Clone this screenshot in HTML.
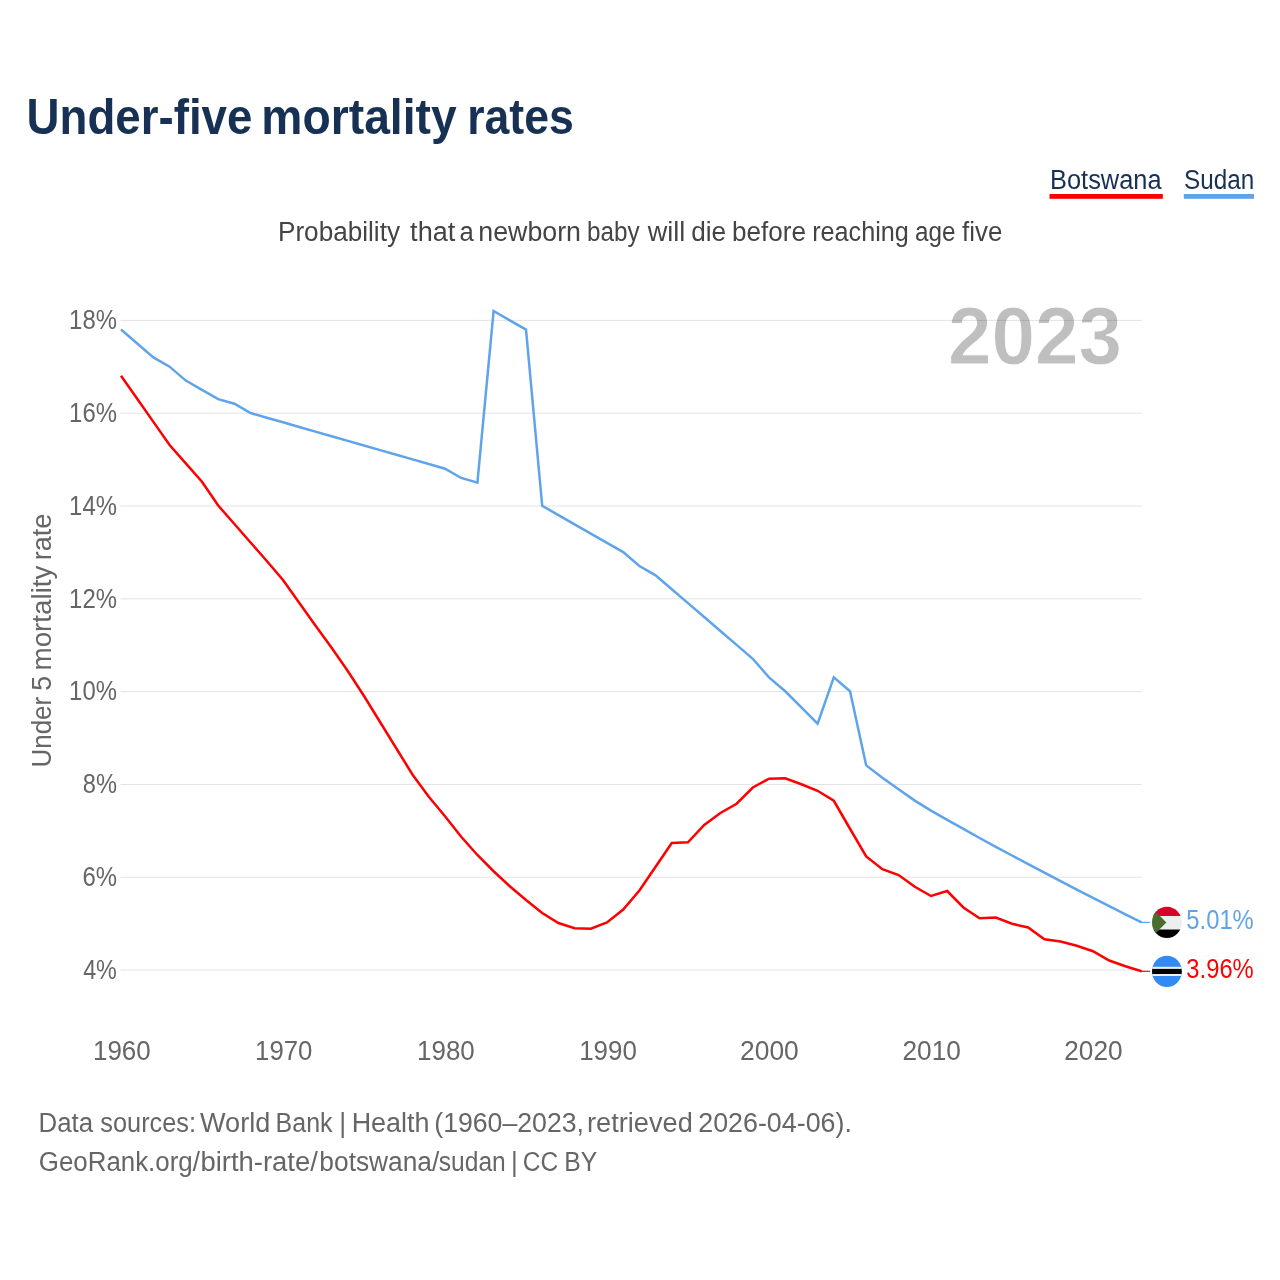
<!DOCTYPE html>
<html><head><meta charset="utf-8"><title>Under-five mortality rates</title>
<style>
html,body{margin:0;padding:0;background:#fff;}
body{width:1280px;height:1280px;overflow:hidden;font-family:"Liberation Sans",sans-serif;}
svg{display:block;will-change:transform;}
text{font-family:"Liberation Sans",sans-serif;}
</style></head><body>
<svg width="1280" height="1280" viewBox="0 0 1280 1280">
<rect width="1280" height="1280" fill="#fff"/>
<!-- legend underlines -->
<rect x="1049.5" y="194" width="113.3" height="4.8" fill="#ff0000"/>
<rect x="1183.8" y="194" width="70.2" height="4.8" fill="#5fa4ea"/>
<!-- year -->
<text x="948" y="363.5" font-size="82" font-weight="bold" fill="#bfbfbf" stroke="#fff" stroke-width="0.9" textLength="174" lengthAdjust="spacingAndGlyphs">2023</text>
<!-- grid -->
<g stroke="#e3e3e3" stroke-width="1" style="mix-blend-mode:multiply">
<line x1="120.5" y1="320.40" x2="1141.8" y2="320.40"/>
<line x1="120.5" y1="413.21" x2="1141.8" y2="413.21"/>
<line x1="120.5" y1="506.02" x2="1141.8" y2="506.02"/>
<line x1="120.5" y1="598.83" x2="1141.8" y2="598.83"/>
<line x1="120.5" y1="691.64" x2="1141.8" y2="691.64"/>
<line x1="120.5" y1="784.45" x2="1141.8" y2="784.45"/>
<line x1="120.5" y1="877.26" x2="1141.8" y2="877.26"/>
<line x1="120.5" y1="970.07" x2="1141.8" y2="970.07"/>
</g>
<!-- text -->
<text x="26.61" y="133.80" font-size="49.6" font-weight="bold" fill="#173154" textLength="225.78" lengthAdjust="spacingAndGlyphs">Under-five</text>
<text x="261.36" y="133.80" font-size="49.6" font-weight="bold" fill="#173154" textLength="195.35" lengthAdjust="spacingAndGlyphs">mortality</text>
<text x="467.21" y="133.80" font-size="49.6" font-weight="bold" fill="#173154" textLength="106.59" lengthAdjust="spacingAndGlyphs">rates</text>
<text x="1050.01" y="188.50" font-size="26.8" fill="#173154" textLength="111.62" lengthAdjust="spacingAndGlyphs">Botswana</text>
<text x="1183.94" y="188.50" font-size="26.8" fill="#173154" textLength="70.22" lengthAdjust="spacingAndGlyphs">Sudan</text>
<text x="277.96" y="240.90" font-size="26.8" fill="#444" textLength="122.04" lengthAdjust="spacingAndGlyphs">Probability</text>
<text x="410.11" y="240.90" font-size="26.8" fill="#444" textLength="45.18" lengthAdjust="spacingAndGlyphs">that</text>
<text x="459.38" y="240.90" font-size="26.8" fill="#444" textLength="14.28" lengthAdjust="spacingAndGlyphs">a</text>
<text x="478.33" y="240.90" font-size="26.8" fill="#444" textLength="102.68" lengthAdjust="spacingAndGlyphs">newborn</text>
<text x="587.06" y="240.90" font-size="26.8" fill="#444" textLength="52.62" lengthAdjust="spacingAndGlyphs">baby</text>
<text x="647.67" y="240.90" font-size="26.8" fill="#444" textLength="37.62" lengthAdjust="spacingAndGlyphs">will</text>
<text x="691.18" y="240.90" font-size="26.8" fill="#444" textLength="34.88" lengthAdjust="spacingAndGlyphs">die</text>
<text x="732.12" y="240.90" font-size="26.8" fill="#444" textLength="73.94" lengthAdjust="spacingAndGlyphs">before</text>
<text x="812.17" y="240.90" font-size="26.8" fill="#444" textLength="96.74" lengthAdjust="spacingAndGlyphs">reaching</text>
<text x="915.12" y="240.90" font-size="26.8" fill="#444" textLength="40.48" lengthAdjust="spacingAndGlyphs">age</text>
<text x="962.00" y="240.90" font-size="26.8" fill="#444" textLength="40.30" lengthAdjust="spacingAndGlyphs">five</text>
<text x="69.11" y="329.10" font-size="26.8" fill="#666" textLength="47.80" lengthAdjust="spacingAndGlyphs">18%</text>
<text x="69.11" y="421.91" font-size="26.8" fill="#666" textLength="47.80" lengthAdjust="spacingAndGlyphs">16%</text>
<text x="69.11" y="514.72" font-size="26.8" fill="#666" textLength="47.80" lengthAdjust="spacingAndGlyphs">14%</text>
<text x="69.11" y="607.53" font-size="26.8" fill="#666" textLength="47.80" lengthAdjust="spacingAndGlyphs">12%</text>
<text x="69.11" y="700.34" font-size="26.8" fill="#666" textLength="47.80" lengthAdjust="spacingAndGlyphs">10%</text>
<text x="82.76" y="793.15" font-size="26.8" fill="#666" textLength="34.14" lengthAdjust="spacingAndGlyphs">8%</text>
<text x="82.38" y="885.96" font-size="26.8" fill="#666" textLength="34.53" lengthAdjust="spacingAndGlyphs">6%</text>
<text x="83.14" y="978.77" font-size="26.8" fill="#666" textLength="33.76" lengthAdjust="spacingAndGlyphs">4%</text>
<text x="92.98" y="1060.30" font-size="26.8" fill="#666" textLength="57.77" lengthAdjust="spacingAndGlyphs">1960</text>
<text x="255.09" y="1060.30" font-size="26.8" fill="#666" textLength="57.35" lengthAdjust="spacingAndGlyphs">1970</text>
<text x="417.08" y="1060.30" font-size="26.8" fill="#666" textLength="57.67" lengthAdjust="spacingAndGlyphs">1980</text>
<text x="579.18" y="1060.30" font-size="26.8" fill="#666" textLength="57.67" lengthAdjust="spacingAndGlyphs">1990</text>
<text x="740.06" y="1060.30" font-size="26.8" fill="#666" textLength="58.69" lengthAdjust="spacingAndGlyphs">2000</text>
<text x="902.47" y="1060.30" font-size="26.8" fill="#666" textLength="58.38" lengthAdjust="spacingAndGlyphs">2010</text>
<text x="1064.27" y="1060.30" font-size="26.8" fill="#666" textLength="58.28" lengthAdjust="spacingAndGlyphs">2020</text>
<text x="1186.36" y="928.80" font-size="26.8" fill="#5fa4ea" textLength="67.35" lengthAdjust="spacingAndGlyphs">5.01%</text>
<text x="1186.36" y="978.00" font-size="26.8" fill="#ff0000" textLength="67.35" lengthAdjust="spacingAndGlyphs">3.96%</text>
<text x="38.48" y="1132.00" font-size="26.8" fill="#666" textLength="54.61" lengthAdjust="spacingAndGlyphs">Data</text>
<text x="100.35" y="1132.00" font-size="26.8" fill="#666" textLength="95.68" lengthAdjust="spacingAndGlyphs">sources:</text>
<text x="200.00" y="1132.00" font-size="26.8" fill="#666" textLength="70.27" lengthAdjust="spacingAndGlyphs">World</text>
<text x="275.62" y="1132.00" font-size="26.8" fill="#666" textLength="56.92" lengthAdjust="spacingAndGlyphs">Bank</text>
<text x="339.20" y="1132.00" font-size="26.8" fill="#666" textLength="6.86" lengthAdjust="spacingAndGlyphs">|</text>
<text x="351.65" y="1132.00" font-size="26.8" fill="#666" textLength="77.87" lengthAdjust="spacingAndGlyphs">Health</text>
<text x="434.25" y="1132.00" font-size="26.8" fill="#666" textLength="149.74" lengthAdjust="spacingAndGlyphs">(1960–2023,</text>
<text x="587.05" y="1132.00" font-size="26.8" fill="#666" textLength="105.72" lengthAdjust="spacingAndGlyphs">retrieved</text>
<text x="698.24" y="1132.00" font-size="26.8" fill="#666" textLength="153.68" lengthAdjust="spacingAndGlyphs">2026-04-06).</text>
<text x="38.79" y="1170.50" font-size="26.8" fill="#666" textLength="161.12" lengthAdjust="spacingAndGlyphs">GeoRank.org/</text>
<text x="200.49" y="1170.50" font-size="26.8" fill="#666" textLength="117.36" lengthAdjust="spacingAndGlyphs">birth-rate/</text>
<text x="319.36" y="1170.50" font-size="26.8" fill="#666" textLength="119.95" lengthAdjust="spacingAndGlyphs">botswana/</text>
<text x="438.81" y="1170.50" font-size="26.8" fill="#666" textLength="66.93" lengthAdjust="spacingAndGlyphs">sudan</text>
<text x="510.90" y="1170.50" font-size="26.8" fill="#666" textLength="6.75" lengthAdjust="spacingAndGlyphs">|</text>
<text x="522.86" y="1170.50" font-size="26.8" fill="#666" textLength="35.48" lengthAdjust="spacingAndGlyphs">CC</text>
<text x="564.32" y="1170.50" font-size="26.8" fill="#666" textLength="32.94" lengthAdjust="spacingAndGlyphs">BY</text>
<g transform="translate(51.1,765.9) rotate(-90)">
<text x="-1.62" y="0.00" font-size="26.8" fill="#666" textLength="70.65" lengthAdjust="spacingAndGlyphs">Under</text>
<text x="75.07" y="0.00" font-size="26.8" fill="#666" textLength="14.92" lengthAdjust="spacingAndGlyphs">5</text>
<text x="95.47" y="0.00" font-size="26.8" fill="#666" textLength="104.83" lengthAdjust="spacingAndGlyphs">mortality</text>
<text x="205.60" y="0.00" font-size="26.8" fill="#666" textLength="46.74" lengthAdjust="spacingAndGlyphs">rate</text>
</g>
<!-- lines -->
<path d="M121.00,329.57 L137.20,343.49 L153.40,357.40 L169.60,366.67 L185.80,380.58 L202.00,389.86 L218.20,399.13 L234.40,403.77 L250.60,413.04 L266.80,417.68 L283.00,422.31 L299.20,426.95 L315.40,431.59 L331.60,436.23 L347.80,440.86 L364.00,445.50 L380.20,450.14 L396.40,454.77 L412.60,459.41 L428.80,464.05 L445.00,468.68 L461.20,477.96 L477.40,482.60 L493.60,311.03 L509.80,320.30 L526.00,329.57 L542.20,505.78 L558.40,515.05 L574.60,524.33 L590.80,533.60 L607.00,542.88 L623.20,552.15 L639.40,566.06 L655.60,575.34 L671.80,589.25 L688.00,603.16 L704.20,617.07 L720.40,630.98 L736.60,644.89 L752.80,658.80 L769.00,677.35 L785.20,691.26 L801.40,707.49 L817.60,723.72 L833.80,677.35 L850.00,691.26 L866.20,765.40 L882.40,777.70 L898.60,789.30 L914.80,800.60 L931.00,810.60 L947.20,819.80 L963.40,828.90 L979.60,838.00 L995.80,846.80 L1012.00,855.52 L1028.20,864.15 L1044.40,872.71 L1060.60,881.19 L1076.80,889.59 L1093.00,897.91 L1109.20,906.15 L1125.40,914.32 L1141.60,922.40" fill="none" stroke="#5fa4ea" stroke-width="2.5" stroke-linejoin="miter"/>
<path d="M121.00,375.75 L137.20,398.80 L153.40,421.90 L169.60,445.00 L185.80,463.40 L202.00,481.75 L218.20,505.50 L234.40,524.00 L250.60,542.50 L266.80,561.00 L283.00,580.00 L299.20,602.75 L315.40,625.50 L331.60,647.75 L347.80,671.00 L364.00,696.00 L380.20,722.25 L396.40,748.50 L412.60,774.75 L428.80,796.75 L445.00,816.25 L461.20,836.75 L477.40,855.00 L493.60,871.25 L509.80,886.25 L526.00,900.00 L542.20,913.00 L558.40,923.00 L574.60,928.25 L590.80,928.75 L607.00,922.50 L623.20,909.50 L639.40,890.50 L655.60,866.75 L671.80,843.00 L688.00,842.25 L704.20,825.00 L720.40,813.00 L736.60,803.75 L752.80,787.50 L769.00,778.75 L785.20,778.25 L801.40,784.25 L817.60,790.75 L833.80,800.75 L850.00,828.75 L866.20,856.50 L882.40,869.25 L898.60,875.00 L914.80,886.75 L931.00,896.00 L947.20,891.00 L963.40,907.50 L979.60,918.25 L995.80,917.50 L1012.00,923.75 L1028.20,927.50 L1044.40,939.25 L1060.60,941.50 L1076.80,945.75 L1093.00,951.25 L1109.20,960.50 L1125.40,966.25 L1141.60,971.30" fill="none" stroke="#ff0000" stroke-width="2.5" stroke-linejoin="miter"/>
<line x1="1141" y1="922.4" x2="1150" y2="922.4" stroke="#5fa4ea" stroke-width="1.2"/>
<line x1="1141" y1="971.3" x2="1150" y2="971.3" stroke="#ff0000" stroke-width="1.2"/>
<!-- flags -->
<defs><clipPath id="c1"><ellipse cx="1166.9" cy="922.4" rx="14.9" ry="15.6"/></clipPath><clipPath id="c2"><ellipse cx="1166.9" cy="971.4" rx="14.9" ry="15.6"/></clipPath></defs>
<g clip-path="url(#c1)">
<rect x="1150" y="905" width="34" height="11" fill="#d80027"/>
<rect x="1150" y="916" width="34" height="13.5" fill="#eee"/>
<rect x="1150" y="929.5" width="34" height="10" fill="#000"/>
<path d="M1150,906 L1166.4,922.4 L1150,938.8 Z" fill="#496e2d"/>
</g>
<g clip-path="url(#c2)">
<rect x="1150" y="954" width="34" height="35" fill="#338af3"/>
<rect x="1150" y="966.8" width="34" height="9.2" fill="#eee"/>
<rect x="1150" y="968.9" width="34" height="5.1" fill="#000"/>
</g>
</svg>
</body></html>
